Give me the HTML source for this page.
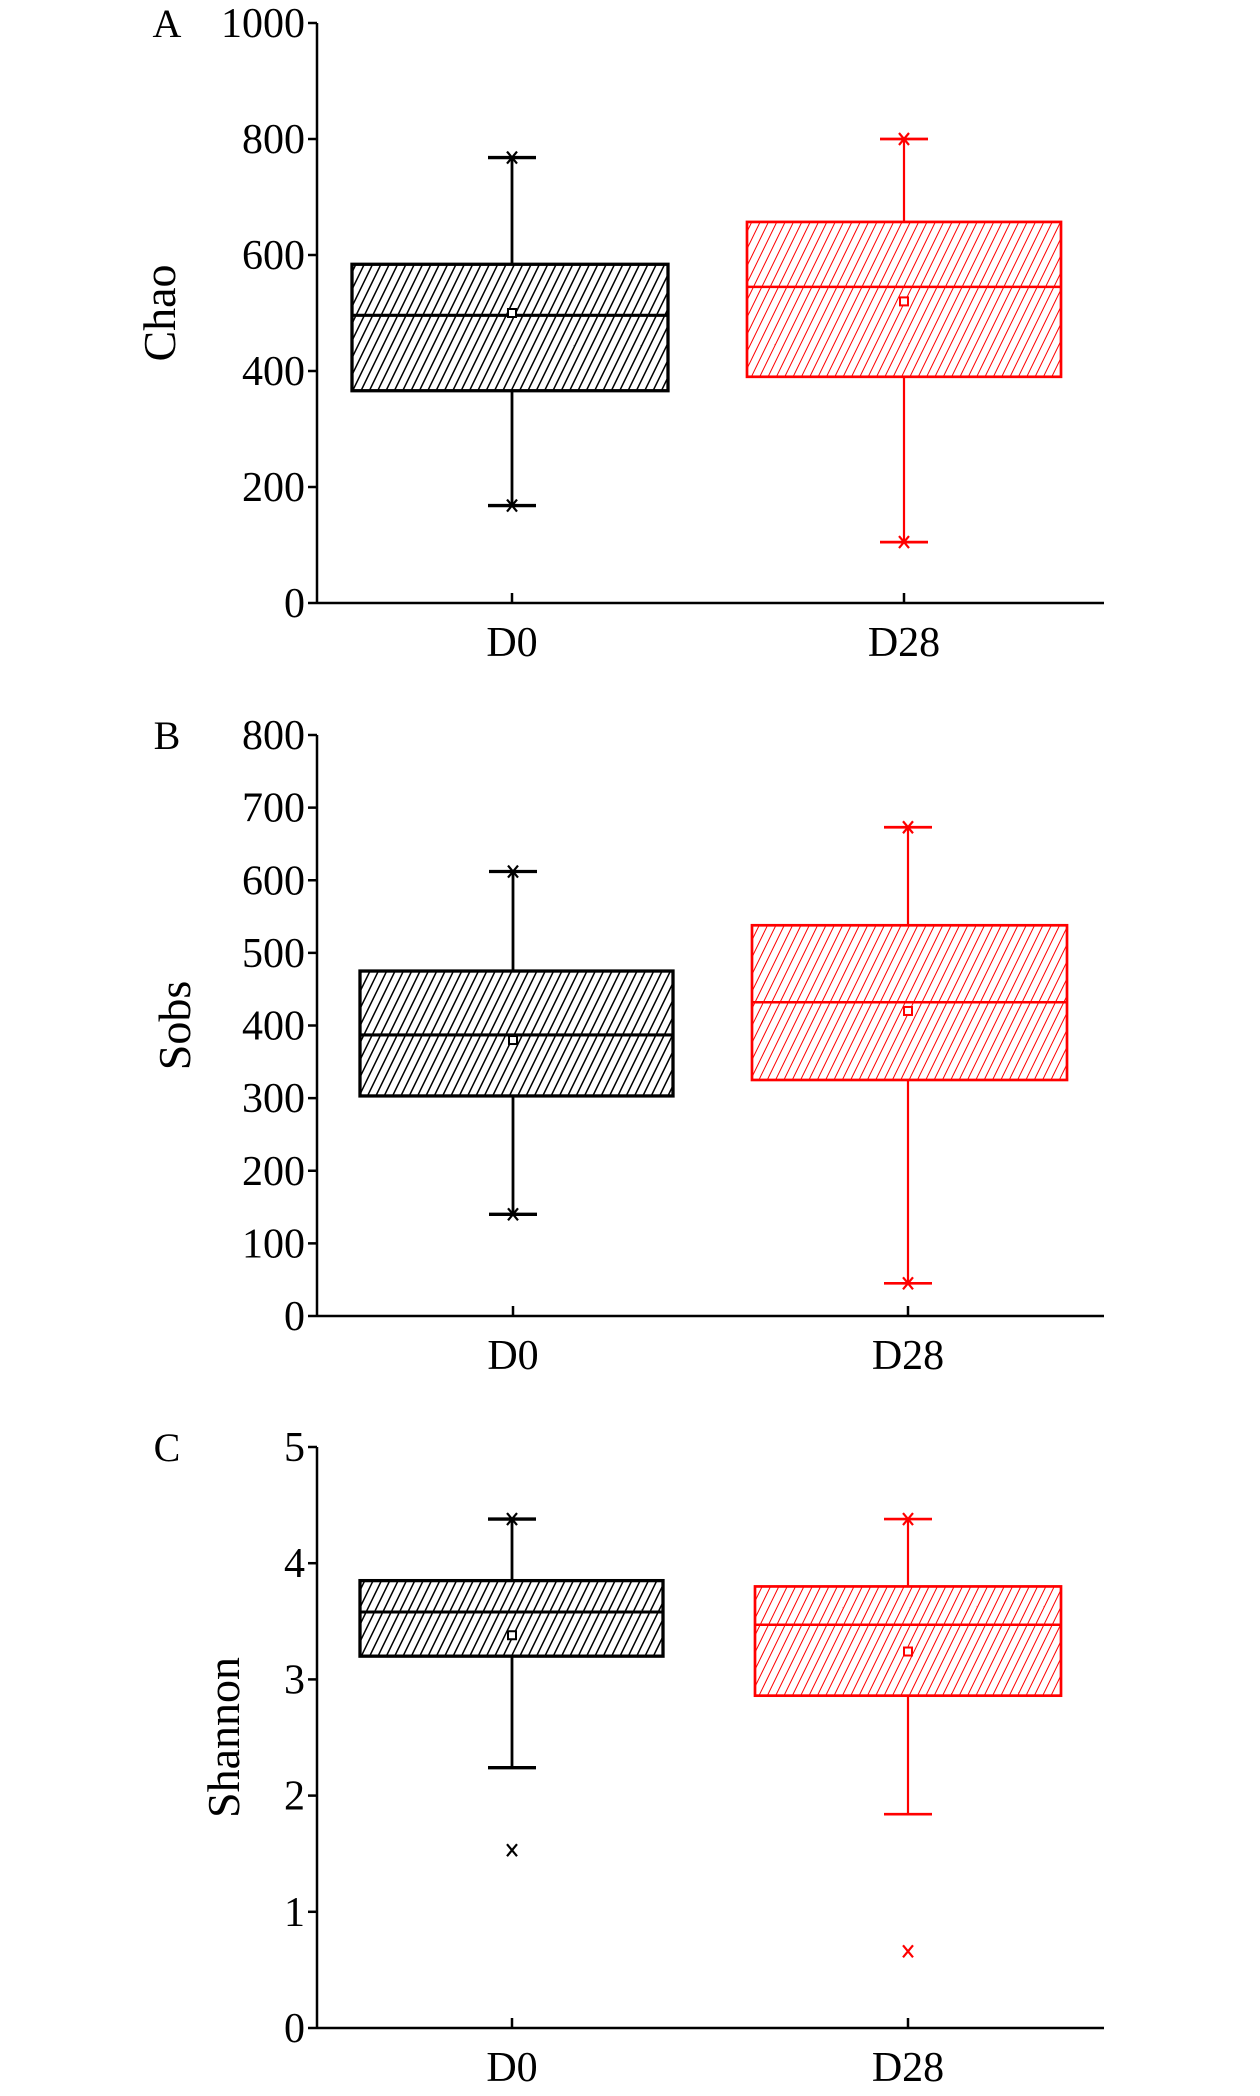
<!DOCTYPE html>
<html><head><meta charset="utf-8"><style>
html,body{margin:0;padding:0;background:#fff;}
svg{display:block;font-family:"Liberation Serif",serif;}
</style></head><body>
<svg id="chart" width="1260" height="2096" viewBox="0 0 1260 2096" xmlns="http://www.w3.org/2000/svg">
<defs>
<pattern id="hatchK" patternUnits="userSpaceOnUse" width="7.5" height="7.5" patternTransform="rotate(26)">
<line x1="0" y1="0" x2="0" y2="7.5" stroke="#000" stroke-width="3"/></pattern>
<pattern id="hatchR" patternUnits="userSpaceOnUse" width="7.5" height="7.5" patternTransform="rotate(26)">
<line x1="0" y1="0" x2="0" y2="7.5" stroke="#f00" stroke-width="2"/></pattern>
</defs>
</svg>
<script>
const categories = ["D0","D28"];
const chaoQ1=[366,390], chaoQ3=[584,657], chaoMed=[496,545], chaoMean=[500,520], chaoLo=[168,105], chaoHi=[768,800], chaoOut=[null,null];
const chaoTicks=[0,200,400,600,800,1000];
const sobsQ1=[303,325], sobsQ3=[475,538], sobsMed=[387,432], sobsMean=[380,420], sobsLo=[140,45], sobsHi=[612,673], sobsOut=[null,null];
const sobsTicks=[0,100,200,300,400,500,600,700,800];
const shQ1=[3.2,2.86], shQ3=[3.85,3.8], shMed=[3.58,3.47], shMean=[3.38,3.24], shLo=[2.24,1.84], shHi=[4.38,4.38], shOut=[1.53,0.66];
const shTicks=[0,1,2,3,4,5];

const NS="http://www.w3.org/2000/svg";
const svg=document.getElementById('chart');
function mk(tag,attrs,parent){const e=document.createElementNS(NS,tag);for(const k in attrs)e.setAttribute(k,attrs[k]);(parent||svg).appendChild(e);return e;}

const panels=[
 {letter:"A",title:"Chao",top:23,bottom:603,max:1000,ticks:chaoTicks,q1:chaoQ1,q3:chaoQ3,med:chaoMed,mean:chaoMean,lo:chaoLo,hi:chaoHi,out:chaoOut,cx:[512,904],bx:[[352,668],[747,1061]],ylx:175},
 {letter:"B",title:"Sobs",top:735,bottom:1316,max:800,ticks:sobsTicks,q1:sobsQ1,q3:sobsQ3,med:sobsMed,mean:sobsMean,lo:sobsLo,hi:sobsHi,out:sobsOut,cx:[513,908],bx:[[360,673],[752,1067]],ylx:190},
 {letter:"C",title:"Shannon",top:1447,bottom:2028,max:5,ticks:shTicks,q1:shQ1,q3:shQ3,med:shMed,mean:shMean,lo:shLo,hi:shHi,out:shOut,cx:[512,908],bx:[[360,663],[755,1061]],ylx:239}
];
const AX=317, AXEND=1104;
panels.forEach((p,pi)=>{
  const g=mk('g',{});
  
  
  const y=v=>p.bottom-(v/p.max)*(p.bottom-p.top);
  const lt=mk('text',{x:167,y:p.top+14,'font-size':40,'text-anchor':'middle'},g);lt.textContent=p.letter;
  
  const ya=mk('line',{x1:AX,y1:p.top,x2:AX,y2:p.bottom,stroke:'#000','stroke-width':2.5},g);
  
  const xa=mk('line',{x1:AX,y1:p.bottom,x2:AXEND,y2:p.bottom,stroke:'#000','stroke-width':2.5},g);
  
  p.ticks.forEach(t=>{
    mk('line',{x1:AX-9,y1:y(t),x2:AX,y2:y(t),stroke:'#000','stroke-width':2.5},g);
    const tx=mk('text',{x:AX-12,y:y(t)+14,'font-size':42,'text-anchor':'end'},g);tx.textContent=t;
    
  });
  const yl=mk('text',{x:0,y:0,'font-size':46,'text-anchor':'middle',transform:`translate(${p.ylx},${(p.top+p.bottom)/2}) rotate(-90)`},g);
  yl.textContent=p.title;
  
  categories.forEach((c,i)=>{
    const col=i===0?'#000':'#f00', sw=i===0?2.8:2.2, cx=p.cx[i];
    mk('line',{x1:cx,y1:p.bottom,x2:cx,y2:p.bottom-10,stroke:'#000','stroke-width':2.5},g);
    const xl=mk('text',{x:cx,y:p.bottom+53,'font-size':42,'text-anchor':'middle'},g);xl.textContent=c;
    
    const bg=mk('g',{},g);
    
    
    mk('line',{x1:cx,y1:y(p.hi[i]),x2:cx,y2:y(p.q3[i]),stroke:col,'stroke-width':sw},bg);
    mk('line',{x1:cx,y1:y(p.q1[i]),x2:cx,y2:y(p.lo[i]),stroke:col,'stroke-width':sw},bg);
    [p.hi[i],p.lo[i]].forEach(v=>mk('line',{x1:cx-24,y1:y(v),x2:cx+24,y2:y(v),stroke:col,'stroke-width':sw+0.5},bg));
    const [bx0,bx1]=p.bx[i];
    mk('rect',{x:bx0,y:y(p.q3[i]),width:bx1-bx0,height:y(p.q1[i])-y(p.q3[i]),fill:i===0?'url(#hatchK)':'url(#hatchR)',stroke:col,'stroke-width':sw+0.5},bg);
    mk('line',{x1:bx0,y1:y(p.med[i]),x2:bx1,y2:y(p.med[i]),stroke:col,'stroke-width':sw+0.3},bg);
    mk('rect',{x:cx-4,y:y(p.mean[i])-4,width:8,height:8,fill:'#fff',stroke:col,'stroke-width':2},bg);
    const cross=(v)=>{const yy=y(v);mk('path',{d:`M${cx-5} ${yy-6}L${cx+5} ${yy+6}M${cx+5} ${yy-6}L${cx-5} ${yy+6}`,stroke:col,'stroke-width':2.2,fill:'none'},bg);};
    if(p.out[i]===null){cross(p.hi[i]);cross(p.lo[i]);}
    else{cross(p.hi[i]);cross(p.out[i]);}
  });
});
</script>
</body></html>
